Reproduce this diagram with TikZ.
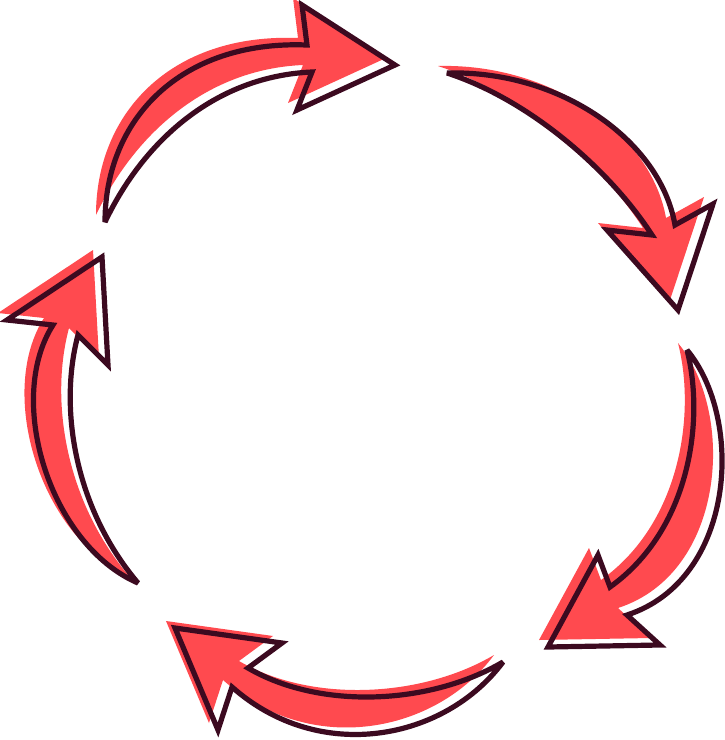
\documentclass[tikz,border=0pt]{standalone}
\usetikzlibrary{positioning}

\definecolor{arrowred}{RGB}{255,74,79}
\definecolor{arrowink}{RGB}{60,10,32}

% the five arrows, in pixel coordinates of the sheet
\def\arrowtop{(105,222) .. controls (105,120) and (180,40) .. (307,45)
  -- (302,5) -- (395,65) -- (297,110) -- (312,72)
  .. controls (218,76) and (145,138) .. cycle}
\def\arrowright{(447,73) .. controls (560,70) and (660,140) .. (675,225)
  -- (713,204) -- (678,310) -- (607,230) -- (652,235)
  .. controls (610,170) and (530,100) .. cycle}
\def\arrowlow{(687,350) .. controls (745,420) and (735,580) .. (627,615)
  -- (660,645) -- (548,647) -- (598,555) -- (610,587)
  .. controls (690,530) and (705,420) .. cycle}
\def\arrowbottom{(503,662) .. controls (445,740) and (320,765) .. (232,687)
  -- (218,730) -- (175,628) -- (282,643) -- (248,668)
  .. controls (320,710) and (430,705) .. cycle}
\def\arrowleft{(138,583) .. controls (50,545) and (5,400) .. (53,325)
  -- (7,320) -- (102,257) -- (108,365) -- (78,335)
  .. controls (58,410) and (76,510) .. cycle}

\begin{document}
\begin{tikzpicture}[
    x=1pt, y=-1pt,
    redpart/.style={fill=arrowred,draw=none,shift={(-9,-7)}},
    inkpart/.style={draw=arrowink,line width=5.2pt,line join=miter,miter limit=4,fill=none}
  ]
  \useasboundingbox (0,0) rectangle (725,740);

  % red copies, shifted up and left
  \fill[redpart] \arrowtop;
  \fill[redpart] \arrowright;
  \fill[redpart] \arrowlow;
  \fill[redpart] \arrowbottom;
  \fill[redpart] \arrowleft;

  % outlines on top
  \draw[inkpart] \arrowtop;
  \draw[inkpart] \arrowright;
  \draw[inkpart] \arrowlow;
  \draw[inkpart] \arrowbottom;
  \draw[inkpart] \arrowleft;
\end{tikzpicture}
\end{document}
